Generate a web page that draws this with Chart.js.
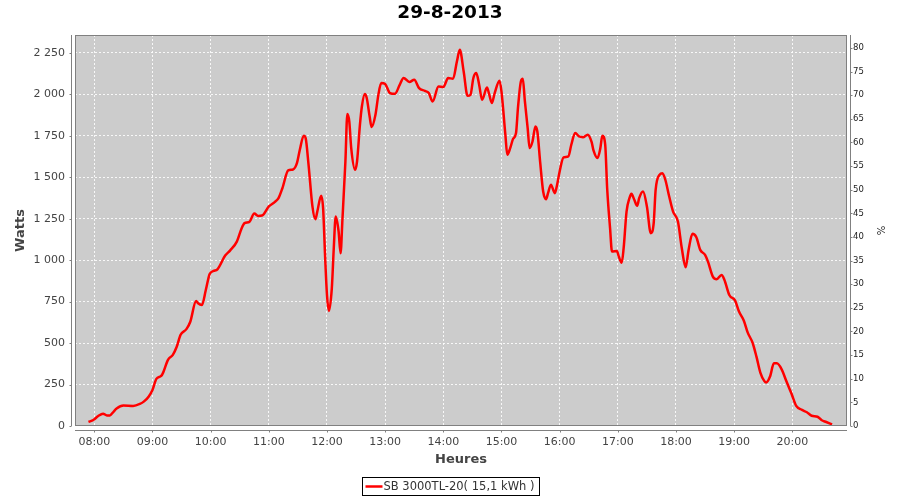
<!DOCTYPE html>
<html>
<head>
<meta charset="utf-8">
<title>29-8-2013</title>
<script src="https://cdn.jsdelivr.net/npm/chart.js@4.4.0/dist/chart.umd.min.js"></script>
<style>
  html, body { margin: 0; padding: 0; background: #fff; }
  canvas { display: block; }
</style>
</head>
<body>
<canvas id="chart" width="900" height="500"></canvas>
<script>
// Production of the day
const times = [
    '07:54', '07:59', '08:04', '08:09', '08:13', '08:16', '08:20', '08:23', '08:30', '08:40',
    '08:47', '08:51', '08:56', '09:00', '09:04', '09:09', '09:11', '09:16', '09:21', '09:25',
    '09:29', '09:35', '09:39', '09:45', '09:47', '09:51', '09:55', '09:59', '10:03', '10:07',
    '10:15', '10:20', '10:27', '10:32', '10:35', '10:40', '10:45', '10:49', '10:53', '11:00',
    '11:06', '11:10', '11:14', '11:20', '11:25', '11:29', '11:32', '11:36', '11:38', '11:41',
    '11:45', '11:48', '11:50', '11:54', '11:56', '11:58', '12:00', '12:02', '12:05', '12:07',
    '12:09', '12:12', '12:14', '12:16', '12:19', '12:21', '12:23', '12:25', '12:29', '12:31',
    '12:34', '12:36', '12:39', '12:41', '12:44', '12:46', '12:50', '12:53', '12:56', '13:00',
    '13:05', '13:10', '13:15', '13:19', '13:25', '13:30', '13:35', '13:41', '13:45', '13:49',
    '13:55', '14:00', '14:05', '14:10', '14:14', '14:17', '14:21', '14:25', '14:28', '14:31',
    '14:34', '14:37', '14:40', '14:45', '14:47', '14:50', '14:53', '14:58', '15:00', '15:04',
    '15:06', '15:09', '15:12', '15:15', '15:17', '15:20', '15:22', '15:24', '15:27', '15:29',
    '15:32', '15:35', '15:37', '15:40', '15:43', '15:46', '15:48', '15:51', '15:55', '15:57',
    '16:00', '16:04', '16:09', '16:12', '16:16', '16:20', '16:24', '16:29', '16:33', '16:35',
    '16:39', '16:42', '16:44', '16:47', '16:49', '16:52', '16:54', '16:59', '17:01', '17:04',
    '17:06', '17:09', '17:12', '17:14', '17:17', '17:20', '17:22', '17:26', '17:30', '17:34',
    '17:37', '17:39', '17:43', '17:46', '17:49', '17:53', '17:57', '18:02', '18:06', '18:10',
    '18:13', '18:17', '18:21', '18:25', '18:30', '18:33', '18:38', '18:42', '18:47', '18:50',
    '18:55', '19:01', '19:05', '19:10', '19:14', '19:19', '19:23', '19:27', '19:31', '19:33',
    '19:37', '19:41', '19:44', '19:49', '19:54', '19:59', '20:04', '20:10', '20:15', '20:20',
    '20:26', '20:30', '20:35', '20:41'
];
const watts = [
    24, 36, 60, 74, 64, 64, 87, 105, 123, 121,
    133, 147, 177, 217, 284, 302, 322, 399, 429, 478,
    550, 584, 629, 754, 740, 730, 820, 917, 935, 945,
    1028, 1058, 1112, 1193, 1223, 1231, 1281, 1267, 1269, 1324,
    1350, 1374, 1434, 1541, 1547, 1585, 1666, 1751, 1736, 1575,
    1324, 1247, 1293, 1388, 1314, 1032, 790, 694, 831, 1072,
    1263, 1173, 1042, 1253, 1595, 1882, 1837, 1676, 1545, 1595,
    1817, 1927, 2002, 1978, 1866, 1803, 1877, 1997, 2069, 2063,
    2008, 2003, 2057, 2099, 2075, 2088, 2038, 2021, 2008, 1957,
    2047, 2044, 2099, 2094, 2198, 2269, 2138, 1991, 1997, 2099,
    2129, 2057, 1967, 2041, 2008, 1948, 2008, 2082, 2017, 1757,
    1636, 1676, 1732, 1767, 1918, 2078, 2094, 1967, 1797, 1676,
    1716, 1806, 1776, 1585, 1414, 1368, 1404, 1455, 1404, 1444,
    1535, 1620, 1626, 1696, 1767, 1746, 1742, 1757, 1712, 1660,
    1616, 1676, 1751, 1696, 1434, 1193, 1052, 1056, 1022, 985,
    1072, 1293, 1374, 1400, 1364, 1328, 1374, 1414, 1324, 1163,
    1223, 1424, 1515, 1525, 1485, 1384, 1293, 1233, 1072, 957,
    1062, 1159, 1138, 1062, 1032, 991, 901, 885, 911, 881,
    790, 756, 690, 635, 563, 502, 418, 322, 272, 262,
    298, 378, 378, 342, 268, 197, 121, 97, 83, 62,
    56, 36, 24, 10
];

const seriesLabel = 'SB 3000TL-20( 15,1 kWh )';
const hourLabels = ['08:00', '09:00', '10:00', '11:00', '12:00', '13:00', '14:00',
    '15:00', '16:00', '17:00', '18:00', '19:00', '20:00'];
const wattTicks = [0, 250, 500, 750, 1000, 1250, 1500, 1750, 2000, 2250];
const wattLabels = ['0', '250', '500', '750', '1 000', '1 250', '1 500', '1 750', '2 000', '2 250'];
const pctTicks = [0, 5, 10, 15, 20, 25, 30, 35, 40, 45, 50, 55, 60, 65, 70, 75, 80];

function toHours(t) {
    const parts = t.split(':').map(Number);
    return parts[0] + parts[1] / 60;
}

const points = times.map((t, i) => ({ x: toHours(t), y: watts[i] }));

Chart.defaults.font.family = '"DejaVu Sans", Verdana, sans-serif';
Chart.defaults.color = '#444';

const gridColor = 'rgba(255,255,255,0.85)';
const axisColor = '#808080';

// gray plot background, JFreeChart-like frame, offset axis lines and the boxed legend
const framePlugin = {
    id: 'frame',
    beforeDraw(chart) {
        const { ctx, chartArea: a } = chart;
        ctx.save();
        ctx.fillStyle = '#cccccc';
        ctx.fillRect(a.left, a.top, a.right - a.left, a.bottom - a.top);
        ctx.restore();
    },
    afterDraw(chart) {
        const { ctx, chartArea: a, scales } = chart;
        ctx.save();
        ctx.strokeStyle = axisColor;
        ctx.lineWidth = 1;
        ctx.strokeRect(a.left + 0.5, a.top + 0.5, a.right - a.left - 1, a.bottom - a.top - 1);

        // axis lines, 4px away from the plot
        const lx = a.left - 3.5, rx = a.right + 3.5, by = a.bottom + 4.5;
        ctx.beginPath();
        ctx.moveTo(lx, a.top); ctx.lineTo(lx, a.bottom);
        ctx.moveTo(rx, a.top); ctx.lineTo(rx, a.bottom);
        ctx.moveTo(a.left, by); ctx.lineTo(a.right, by);
        wattTicks.forEach(v => {
            const y = Math.round(scales.y.getPixelForValue(v)) + 0.5;
            ctx.moveTo(lx - 2, y); ctx.lineTo(lx, y);
        });
        pctTicks.forEach(v => {
            const y = Math.round(scales.y1.getPixelForValue(v)) + 0.5;
            ctx.moveTo(rx, y); ctx.lineTo(rx + 2, y);
        });
        hourLabels.forEach(h => {
            const x = Math.round(scales.x.getPixelForValue(toHours(h))) + 0.5;
            ctx.moveTo(x, by); ctx.lineTo(x, by + 2);
        });
        ctx.stroke();

        // legend
        const ds = chart.data.datasets[0];
        ctx.font = '11.5px "DejaVu Sans"';
        const tw = ctx.measureText(ds.label).width;
        const boxW = Math.round(3 + 17 + 1 + tw + 5);
        const x0 = Math.round(450 - boxW / 2) + 0.5;
        const y0 = 477.5;
        ctx.strokeStyle = '#000';
        ctx.strokeRect(x0, y0, boxW, 18);
        ctx.strokeStyle = ds.borderColor;
        ctx.lineWidth = 2.5;
        ctx.beginPath();
        ctx.moveTo(x0 + 3, y0 + 9); ctx.lineTo(x0 + 20, y0 + 9);
        ctx.stroke();
        ctx.fillStyle = '#333';
        ctx.textBaseline = 'middle';
        ctx.textAlign = 'left';
        ctx.fillText(ds.label, x0 + 21, y0 + 9.5);
        ctx.restore();
    }
};

new Chart(document.getElementById('chart'), {
    type: 'line',
    data: {
        datasets: [{
            label: seriesLabel,
            data: points,
            yAxisID: 'y',
            borderColor: '#ff0000',
            borderWidth: 2.5,
            pointRadius: 0,
            fill: false,
            cubicInterpolationMode: 'monotone'
        }]
    },
    options: {
        responsive: false,
        animation: false,
        devicePixelRatio: 1,
        layout: { padding: 0 },
        plugins: {
            legend: { display: false },
            tooltip: { enabled: false },
            title: {
                display: true,
                text: '29-8-2013',
                color: '#000',
                font: { size: 18.5, weight: 'bold' },
                padding: { top: 2, bottom: 10.8 }
            }
        },
        scales: {
            x: {
                type: 'linear',
                min: 7.668,
                max: 20.94,
                afterBuildTicks: s => { s.ticks = hourLabels.map(h => ({ value: toHours(h) })); },
                afterFit: s => { s.height = 74; },
                ticks: {
                    callback: (v, i) => hourLabels[i],
                    font: { size: 11 },
                    padding: 10,
                    maxRotation: 0,
                    autoSkip: false
                },
                grid: { color: gridColor, drawTicks: false },
                border: { display: false, dash: [2, 2] },
                title: {
                    display: true,
                    text: 'Heures',
                    font: { size: 13, weight: 'bold' },
                    padding: { top: 0, bottom: 33 }
                }
            },
            y: {
                position: 'left',
                min: 0,
                max: 2358,
                afterBuildTicks: s => { s.ticks = wattTicks.map(v => ({ value: v })); },
                afterFit: s => { s.width = 75; },
                ticks: {
                    callback: (v, i) => wattLabels[i],
                    font: { size: 11 },
                    padding: 10
                },
                grid: { color: gridColor, drawTicks: false },
                border: { display: false, dash: [2, 2] },
                title: {
                    display: true,
                    text: 'Watts',
                    font: { size: 13, weight: 'bold' },
                    padding: { top: 13, bottom: 0 }
                }
            },
            y1: {
                position: 'right',
                min: 0,
                max: 82.75,
                afterBuildTicks: s => { s.ticks = pctTicks.map(v => ({ value: v })); },
                afterFit: s => { s.width = 53; },
                ticks: {
                    color: '#222',
                    font: { size: 8.5 },
                    padding: 6
                },
                grid: { display: false, drawTicks: false },
                border: { display: false },
                title: {
                    display: true,
                    text: '%',
                    color: '#222',
                    font: { size: 10 },
                    padding: { top: 14, bottom: 0 }
                }
            }
        }
    },
    plugins: [framePlugin]
});
</script>
</body>
</html>
